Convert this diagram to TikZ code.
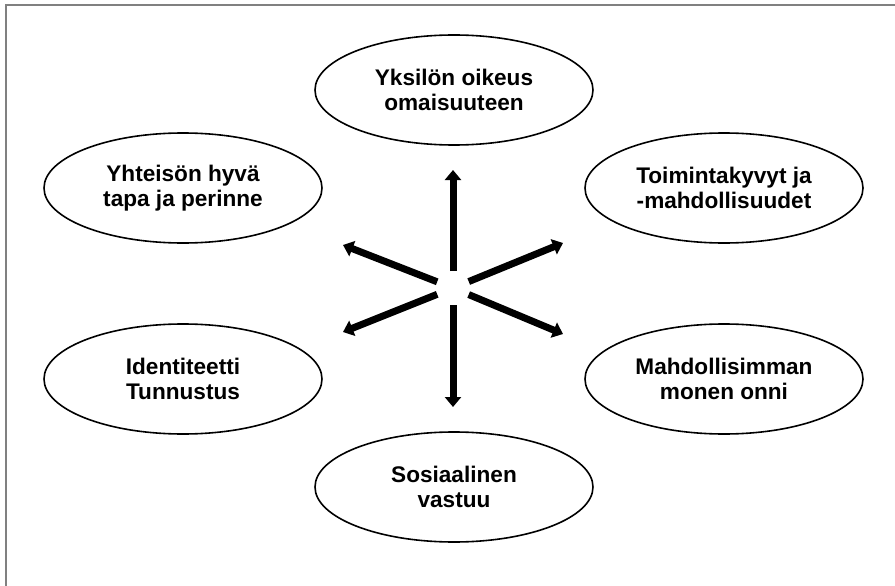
\documentclass[tikz,border=0pt]{standalone}
\usepackage{fontspec}
\setmainfont{Liberation Sans}
\usetikzlibrary{arrows.meta,shapes.geometric}

\begin{document}
\begin{tikzpicture}[x=1pt,y=-1pt,>={Triangle[length=10pt,width=16pt]},
	idea/.style={ellipse,draw,line width=1.6pt,minimum width=278pt,minimum height=110pt,inner sep=0pt,align=center,font=\fontsize{22.6}{25.5}\selectfont\bfseries},
	spoke/.style={->,line width=7pt,shorten <=17pt}]
		\useasboundingbox (0,0) rectangle (895,586);
		\draw[gray,line width=2pt] (895,5.5) -- (5.5,5.5) -- (5.5,586);
		\node[idea] (yks) at (454,90) {Yksilön oikeus\\omaisuuteen};
		\node[idea] (toim) at (724,188) {Toimintakyvyt ja\\-mahdollisuudet};
		\node[idea] (mahd) at (724,379) {Mahdollisimman\\monen onni};
		\node[idea] (sos) at (454,487) {Sosiaalinen\\vastuu};
		\node[idea] (ident) at (183,379) {Identiteetti\\Tunnustus};
		\node[idea] (yht) at (183,188) {Yhteisön hyvä\\tapa ja perinne};
		\coordinate (c) at (453,288);
		\coordinate (c_yks) at (453,170);
		\coordinate (c_toim) at (563,243);
		\coordinate (c_mahd) at (563,334);
		\coordinate (c_sos) at (453,407);
		\coordinate (c_ident) at (343,332);
		\coordinate (c_yht) at (343,245);
		\draw[spoke] (c) -- (c_yks);
		\draw[spoke] (c) -- (c_toim);
		\draw[spoke] (c) -- (c_mahd);
		\draw[spoke] (c) -- (c_sos);
		\draw[spoke] (c) -- (c_ident);
		\draw[spoke] (c) -- (c_yht);
	\end{tikzpicture}
\end{document}
